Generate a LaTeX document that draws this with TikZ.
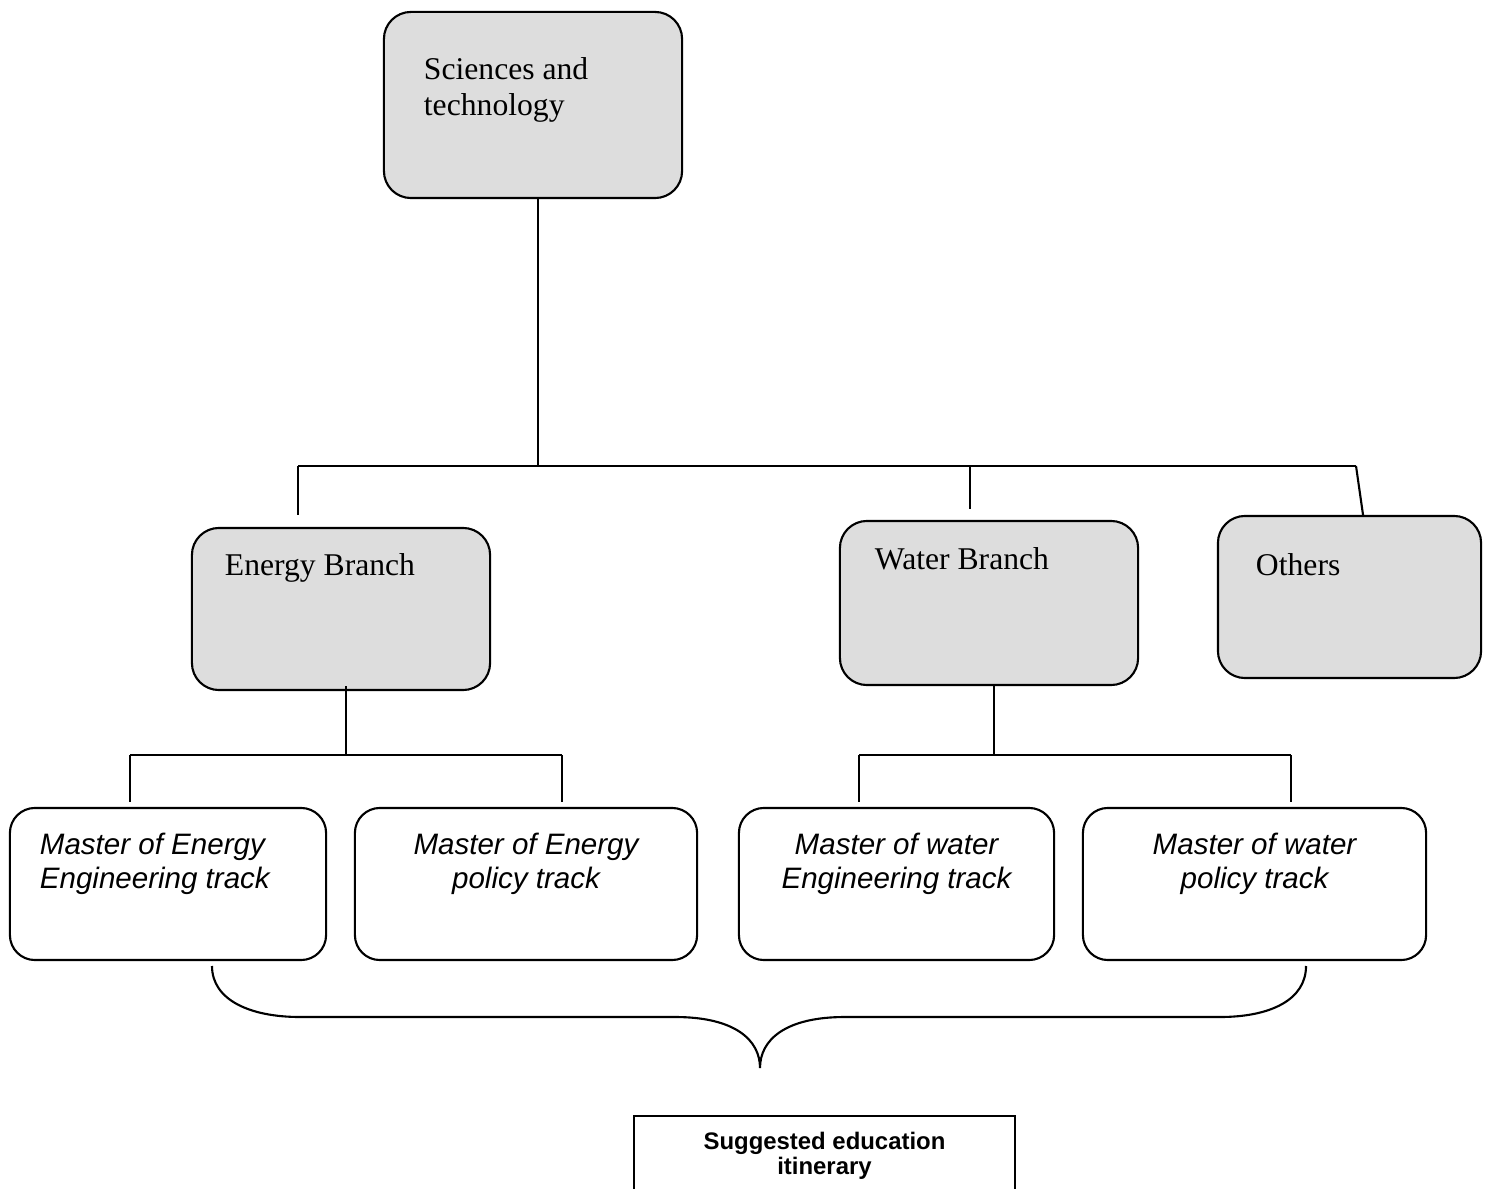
\documentclass[tikz,border=0pt]{standalone}
\usepackage{fontspec}
\setmainfont{Liberation Serif}
\setsansfont{Liberation Sans}
\usepackage{tikz}
\usetikzlibrary{positioning, calc}
\definecolor{boxgray}{RGB}{221,221,221}
\newcommand{\branchfont}{\fontsize{9}{10}\selectfont}
\newcommand{\trackfont}{\fontsize{8.4}{9.7}\selectfont\sffamily\itshape}
\newcommand{\notefont}{\fontsize{6.8}{7.1}\selectfont\sffamily\bfseries}

\begin{document}
\begin{tikzpicture}[x=0.01cm, y=-0.01cm, line width=0.6pt,
    branch/.style={rectangle, rounded corners=0.27cm, draw, fill=boxgray,
                   minimum width=2.98cm, inner sep=0pt},
    track/.style={rectangle, rounded corners=0.25cm, draw, fill=white,
                  minimum height=1.52cm, inner sep=0pt},
    txt/.style={inner sep=0pt, align=left, font=\branchfont},
    tracktxt/.style={inner sep=0pt, align=center, font=\trackfont}
]
\useasboundingbox (0,0) rectangle (1489,1189);
\clip (0,0) rectangle (1489,1189);

% top level
\node[branch, minimum height=1.86cm] (sci) at (533,105) {};
\node[txt, below right=0.46cm and 0.40cm of sci.north west] (scitxt) {Sciences and\\technology};

% branches
\node[branch, minimum height=1.62cm] (en) at (341,609) {};
\node[branch, minimum height=1.64cm] (wa) at (989,603) {};
\node[branch, minimum width=2.63cm, minimum height=1.62cm] (ot) at (1349.5,597) {};
\node[txt, below right=0.26cm and 0.33cm of en.north west] (entxt) {Energy Branch};
\node[txt, below right=0.27cm and 0.35cm of wa.north west] (watxt) {Water Branch};
\node[txt, below right=0.38cm and 0.38cm of ot.north west] (ottxt) {Others};

% tracks
\node[track, minimum width=3.16cm] (m1) at (168,884) {};
\node[track, minimum width=3.42cm] (m2) at (526,884) {};
\node[track, minimum width=3.15cm] (m3) at (896.5,884) {};
\node[track, minimum width=3.43cm] (m4) at (1254.5,884) {};
\node[tracktxt, align=left, below right=0.25cm and 0.30cm of m1.north west] (m1txt) {Master of Energy\\Engineering track};
\node[tracktxt, below=0.25cm of m2.north] (m2txt) {Master of Energy\\policy track};
\node[tracktxt, below=0.25cm of m3.north] (m3txt) {Master of water\\Engineering track};
\node[tracktxt, below=0.25cm of m4.north] (m4txt) {Master of water\\policy track};

% itinerary box
\node[draw, fill=white, minimum width=3.81cm, minimum height=1.2cm, anchor=north, inner sep=0pt] (itn) at (824.5,1115) {};
\node[inner sep=0pt, align=center, font=\notefont, below=0.16cm of itn.north] (itntxt) {Suggested education\\itinerary};

% connectors, first level
\coordinate (j0) at (538,466);
\coordinate (b0l) at (298,466);
\coordinate (b0w) at (970,466);
\coordinate (b0r) at (1356,466);
\draw (sci.south -| j0) -- (j0);
\draw (b0l) -- (b0r);
\draw[shorten >=0.12cm] (b0l) -- (b0l |- en.north);
\draw[shorten >=0.11cm] (b0w) -- (b0w |- wa.north);
\draw (b0r) -- ([xshift=0.135cm]ot.north);

% connectors, second level
\coordinate (ej) at (346,755);
\coordinate (wj) at (994,755);
\coordinate (e1) at (130,755);
\coordinate (e2) at (562,755);
\coordinate (w1) at (859,755);
\coordinate (w2) at (1291,755);
\draw ([yshift=0.05cm]en.south -| ej) -- (ej);
\draw (e1) -- (e2);
\draw[shorten >=0.05cm] (e1) -- (e1 |- m1.north);
\draw[shorten >=0.05cm] (e2) -- (e2 |- m2.north);
\draw (wa.south -| wj) -- (wj);
\draw (w1) -- (w2);
\draw[shorten >=0.05cm] (w1) -- (w1 |- m3.north);
\draw[shorten >=0.05cm] (w2) -- (w2 |- m4.north);

% brace
\coordinate (tip) at (760,1068);
\draw (212,966) .. controls (212,1000) and (250,1017) .. (300,1017) -- (675,1017)
      .. controls (735,1017) and (760,1040) .. (tip)
      .. controls (760,1040) and (785,1017) .. (845,1017) -- (1220,1017)
      .. controls (1270,1017) and (1306,1000) .. (1306,966);
\end{tikzpicture}
\end{document}
